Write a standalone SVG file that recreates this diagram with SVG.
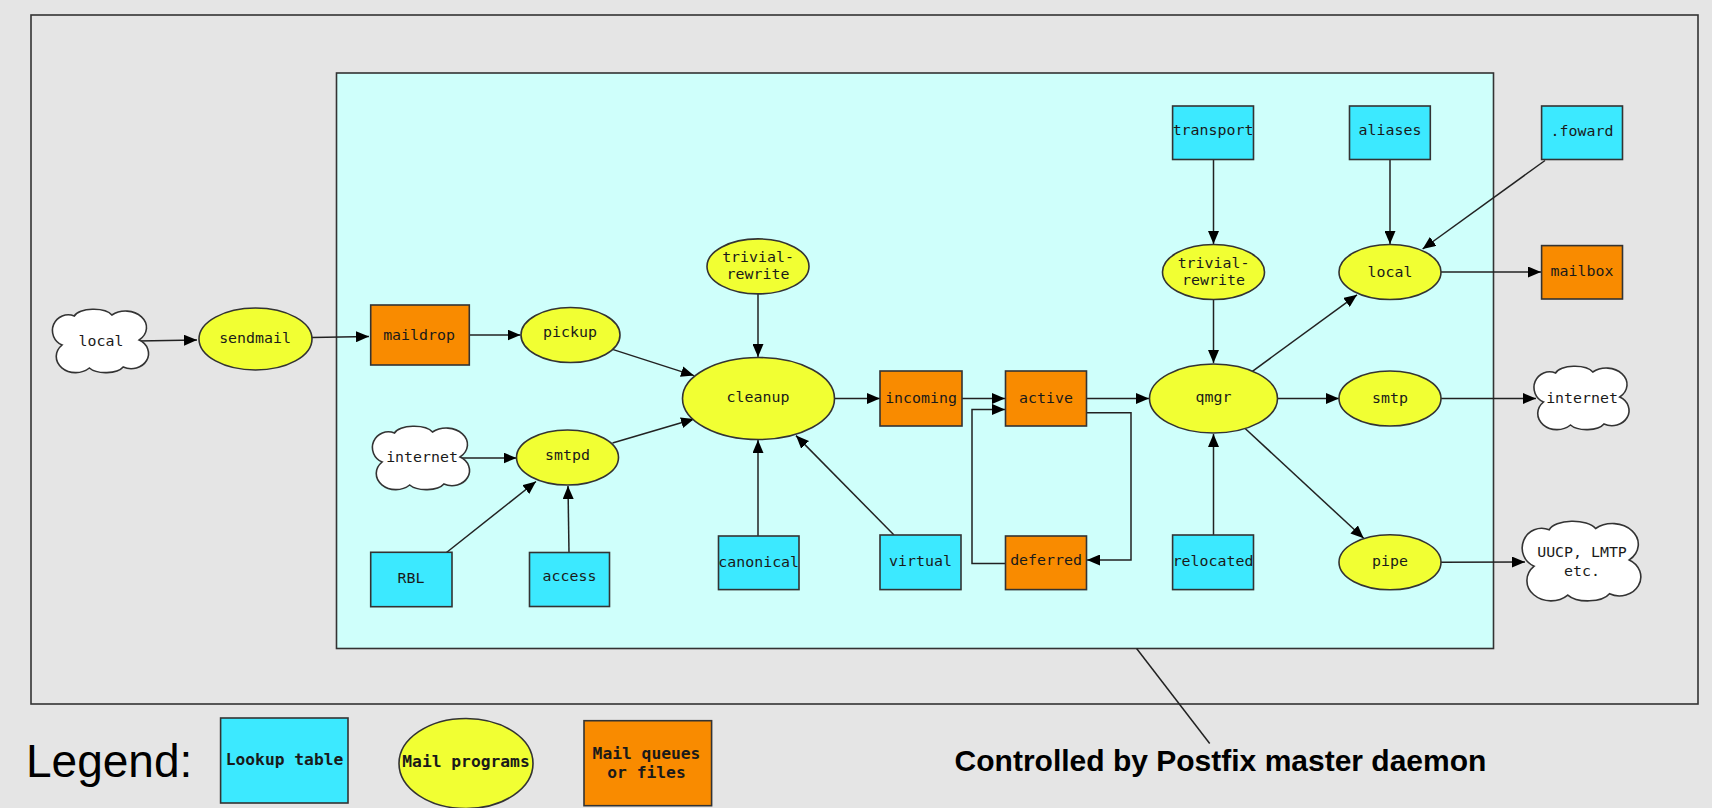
<svg xmlns="http://www.w3.org/2000/svg" xmlns:xlink="http://www.w3.org/1999/xlink" width="1712" height="808" viewBox="0 0 1712 808">
<style>
.s{stroke:#333;stroke-width:1.6}
.b{fill:#3ce9ff}.o{fill:#f98b00}.y{fill:#f1ff33}.w{fill:#fff}
text{font-family:"DejaVu Sans Mono",monospace;font-size:14.9px;fill:#1a1a1a;text-anchor:middle}
.lg{font-weight:bold;font-size:16.3px}
.sans{font-family:"Liberation Sans",Arial,sans-serif;fill:#000}
#conn path{fill:none;stroke:#222;stroke-width:1.5;marker-end:url(#a)}
.cl{stroke:#333;stroke-width:1.6;fill:#fff;vector-effect:non-scaling-stroke}
</style>
<defs>
<marker id="a" markerUnits="userSpaceOnUse" markerWidth="13" markerHeight="11" refX="13" refY="5.5" orient="auto"><path d="M0,0L13,5.5L0,11z" fill="#000"/></marker>
<path id="c" class="cl" d="M7,36A16,15 0 0 1 20,7A21,9 0 0 1 60,6A19,14 0 0 1 89,31A17,14 0 0 1 72,58A20,9 0 0 1 36,59A18,14 0 0 1 7,36z"/>
</defs>
<rect width="1712" height="808" fill="#e5e5e5"/>
<rect id="outer" x="31" y="15" width="1667" height="689" fill="#e5e5e5" class="s"/>
<rect id="master" x="336.5" y="73" width="1157" height="575.5" fill="#cffffb" class="s"/>
<g id="conn">
<path d="M138,341L197,340"/>
<path d="M312,337.5L369,336.5"/>
<path d="M469,335L520.5,335"/>
<path d="M612.5,349.4L694,375.6"/>
<path d="M460,458L516.5,458"/>
<path d="M612.5,443L694,419"/>
<path d="M446.5,552.5L536,481.5"/>
<path d="M569,552.5L568,486"/>
<path d="M758,294L758,357"/>
<path d="M758,536L758,440"/>
<path d="M894,535L796,435.6"/>
<path d="M834,398.5L880,398.5"/>
<path d="M962,398.5L1005,398.5"/>
<path d="M1005.5,563.4L972,563.4L972,409.4L1005,409.4"/>
<path d="M1086.5,412.7L1131,412.7L1131,560L1087,560"/>
<path d="M1086.5,398.5L1149,398.5"/>
<path d="M1213.5,159.5L1213.5,244"/>
<path d="M1213.5,300L1213.5,363"/>
<path d="M1213.5,535L1213.5,434"/>
<path d="M1251,372.3L1357,294.8"/>
<path d="M1277.4,398.5L1339,398.5"/>
<path d="M1244.6,428L1363.7,538.3"/>
<path d="M1390,159.5L1390,244"/>
<path d="M1545,160.5L1422.6,249"/>
<path d="M1441,272L1541,272"/>
<path d="M1441,398.5L1536,398.5"/>
<path d="M1441,562.3L1525,562"/>
<path id="ctl" style="marker-end:none" d="M1136.6,648.5L1209.7,743.5"/>
</g>
<g id="n-local1"><use xlink:href="#c" href="#c" transform="translate(55.5,309) scale(.94,1)"/><text x="101" y="346">local</text></g>
<g id="n-sendmail"><ellipse cx="255.5" cy="339" rx="56.5" ry="31" class="s y"/><text x="255" y="343">sendmail</text></g>
<g id="n-maildrop"><rect x="370.7" y="305" width="98.6" height="60" class="s o"/><text x="419" y="340">maildrop</text></g>
<g id="n-pickup"><ellipse cx="570.5" cy="335" rx="49.5" ry="27.5" class="s y"/><text x="570" y="337">pickup</text></g>
<g id="n-internet1"><use xlink:href="#c" href="#c" transform="translate(375.5,426) scale(.95,1)"/><text x="422" y="462">internet</text></g>
<g id="n-smtpd"><ellipse cx="567.5" cy="457.5" rx="51" ry="27.5" class="s y"/><text x="567.5" y="460">smtpd</text></g>
<g id="n-rbl"><rect x="370.7" y="552.3" width="81.3" height="54.4" class="s b"/><text x="411" y="583">RBL</text></g>
<g id="n-access"><rect x="529.5" y="552.5" width="80" height="54" class="s b"/><text x="569.5" y="581">access</text></g>
<g id="n-trivial1"><ellipse cx="758" cy="266.4" rx="51" ry="27.5" class="s y"/><text x="758" y="261.5">trivial-</text><text x="758" y="278.5">rewrite</text></g>
<g id="n-cleanup"><ellipse cx="758.5" cy="398.5" rx="76" ry="41" class="s y"/><text x="758" y="402">cleanup</text></g>
<g id="n-incoming"><rect x="880" y="371" width="82" height="55" class="s o"/><text x="921" y="403">incoming</text></g>
<g id="n-active"><rect x="1005.5" y="371" width="81" height="55" class="s o"/><text x="1046" y="403">active</text></g>
<g id="n-canonical"><rect x="718.5" y="536" width="80.5" height="53.6" class="s b"/><text x="758.7" y="567">canonical</text></g>
<g id="n-virtual"><rect x="880" y="535" width="81" height="54.6" class="s b"/><text x="920.5" y="566">virtual</text></g>
<g id="n-deferred"><rect x="1005.5" y="536" width="81" height="53.6" class="s o"/><text x="1046" y="565">deferred</text></g>
<g id="n-qmgr"><ellipse cx="1213.5" cy="398.5" rx="64" ry="34.5" class="s y"/><text x="1213.5" y="402">qmgr</text></g>
<g id="n-relocated"><rect x="1172.6" y="535" width="80.9" height="54.6" class="s b"/><text x="1213" y="566">relocated</text></g>
<g id="n-transport"><rect x="1172.6" y="106" width="80.9" height="53.5" class="s b"/><text x="1213" y="135">transport</text></g>
<g id="n-aliases"><rect x="1349.5" y="106" width="80.8" height="53.5" class="s b"/><text x="1390" y="135">aliases</text></g>
<g id="n-foward"><rect x="1541.6" y="106" width="80.9" height="53.5" class="s b"/><text x="1582" y="136">.foward</text></g>
<g id="n-trivial2"><ellipse cx="1213.5" cy="272" rx="51" ry="27.5" class="s y"/><text x="1213.5" y="268">trivial-</text><text x="1213.5" y="285">rewrite</text></g>
<g id="n-local2"><ellipse cx="1390" cy="272" rx="51" ry="27.5" class="s y"/><text x="1390" y="277">local</text></g>
<g id="n-mailbox"><rect x="1541.6" y="245.6" width="80.9" height="53.4" class="s o"/><text x="1582" y="276">mailbox</text></g>
<g id="n-smtp"><ellipse cx="1390" cy="398.5" rx="51" ry="27.5" class="s y"/><text x="1390" y="403">smtp</text></g>
<g id="n-internet2"><use xlink:href="#c" href="#c" transform="translate(1537,366) scale(.93,1)"/><text x="1582" y="403">internet</text></g>
<g id="n-pipe"><ellipse cx="1390" cy="562.3" rx="51" ry="27.5" class="s y"/><text x="1390" y="566">pipe</text></g>
<g id="n-uucp"><use xlink:href="#c" href="#c" transform="translate(1526,521) scale(1.16,1.255)"/><text x="1582" y="557">UUCP, LMTP</text><text x="1582" y="576">etc.</text></g>
<g id="legend">
<text class="sans" x="26" y="777" style="font-size:46px;text-anchor:start">Legend:</text>
<rect x="220.6" y="718" width="127.4" height="85" class="s b"/><text class="lg" x="284.5" y="765">Lookup table</text>
<ellipse cx="466" cy="763.5" rx="67" ry="45" class="s y"/><text class="lg" x="466" y="767">Mail programs</text>
<rect x="584" y="720.7" width="127.6" height="85" class="s o"/><text class="lg" x="646.5" y="759">Mail queues</text><text class="lg" x="646.5" y="778">or files</text>
<text class="sans" x="1220.5" y="771" style="font-weight:bold;font-size:30px">Controlled by Postfix master daemon</text>
</g>
</svg>
